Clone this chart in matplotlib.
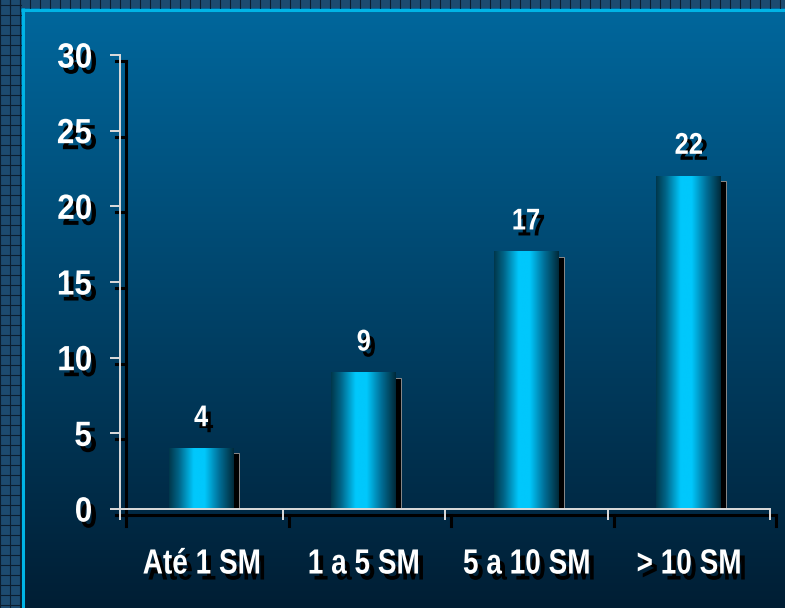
import numpy as np
import matplotlib
matplotlib.use("Agg")
import matplotlib.pyplot as plt
from matplotlib.patches import Rectangle, PathPatch
from matplotlib.textpath import TextPath
from matplotlib.font_manager import FontProperties
from matplotlib.transforms import offset_copy, Affine2D, ScaledTranslation

# data
categories = ["Até 1 SM", "1 a 5 SM", "5 a 10 SM", "> 10 SM"]
values = [4, 9, 17, 22]
y_ticks = [0, 5, 10, 15, 20, 25, 30]

W, H = 785, 608
fig = plt.figure(figsize=(W / 100, H / 100), dpi=100)

BOLD = FontProperties(family="Liberation Sans", weight="bold")
CAP = 0.716    # cap height / em


def narrow_text(ax, x, y, s, size_px, base_tr, ha="center", dx=0, dy=0, sx=0.80):
    # white text with a black drop shadow, condensed horizontally
    # (reference uses a narrow bold face that is not installed)
    tp = TextPath((0, 0), s, size=size_px, prop=BOLD)
    bb = tp.get_extents()
    if ha == "right":
        ox = -sx * bb.x1
    else:
        ox = -sx * (bb.x0 + bb.x1) / 2
    oy = -CAP * size_px / 2
    for col, sh in (("black", (5, -6)), ("white", (0, 0))):
        tr = (Affine2D().scale(sx, 1).translate(ox + dx + sh[0], oy + dy + sh[1])
              + ScaledTranslation(x, y, base_tr))
        p = PathPatch(tp, fc=col, ec="none", transform=tr, zorder=6)
        p.set_clip_on(False)
        ax.add_artist(p)


# ---------------------------------
# BACKGROUND (gradient + grid frame)
# ---------------------------------
bg = fig.add_axes([0, 0, 1, 1])
bg.set_xlim(0, W)
bg.set_ylim(H, 0)
bg.axis("off")

top_col = np.array([0, 104, 158]) / 255
bot_col = np.array([0, 30, 52]) / 255
t = np.linspace(0, 1, H)[:, None, None]
grad = top_col * (1 - t) + bot_col * t
bg.imshow(grad, extent=[0, W, H, 0], aspect="auto", zorder=0)

frame_col = "#1d4b70"
bg.add_patch(Rectangle((0, 0), 21, H, fc=frame_col, ec="none", zorder=1))
bg.add_patch(Rectangle((0, 0), W, 8, fc=frame_col, ec="none", zorder=1))
for gx in range(0, 21, 10):
    bg.plot([gx, gx], [0, H], color="#0b1e30", lw=0.8, zorder=2)
for gy in range(5, H, 10):
    bg.plot([0, 21], [gy, gy], color="#0b1e30", lw=0.8, zorder=2)
for gx in range(0, W, 10):
    bg.plot([gx, gx], [0, 8], color="#0b1e30", lw=0.8, zorder=2)
bg.plot([22.5, 22.5], [8, H], color="#00b4e6", lw=2.2, zorder=3, solid_capstyle="butt")
bg.plot([21, W], [9.5, 9.5], color="#00b4e6", lw=2.2, zorder=3, solid_capstyle="butt")

# ---------------------------------
# CHART
# ---------------------------------
ax = fig.add_axes([120 / W, 99 / H, 650 / W, 454 / H])
ax.set_facecolor("none")

shadow_tr = offset_copy(ax.transData, fig, x=5, y=-5, units="dots")

stops_t = [0.0, 0.15, 0.38, 0.55, 0.78, 1.0]
stops_g = [55, 100, 200, 200, 110, 42]
stops_b = [75, 135, 252, 252, 150, 58]
tt = np.linspace(0, 1, 200)
bar_grad = np.zeros((1, 200, 3))
bar_grad[0, :, 1] = np.interp(tt, stops_t, stops_g) / 255
bar_grad[0, :, 2] = np.interp(tt, stops_t, stops_b) / 255

bw = 0.4
for i, v in enumerate(values):
    ax.add_patch(Rectangle((i - bw / 2, 0), bw, v, transform=shadow_tr,
                           fc="black", ec="#8a8a8a", lw=0.7, zorder=1))
    ax.imshow(bar_grad, extent=[i - bw / 2, i + bw / 2, 0, v],
              aspect="auto", zorder=2, interpolation="bilinear")

ax.set_xlim(-0.5, 3.5)
ax.set_ylim(0, 30)
ax.set_aspect("auto")

# axis lines and ticks
for s in ["top", "right"]:
    ax.spines[s].set_visible(False)
for s in ["left", "bottom"]:
    ax.spines[s].set_color("#dcdcdc")
    ax.spines[s].set_linewidth(1.4)
    ax.spines[s].set_zorder(4)

ax.set_yticks(y_ticks)
ax.set_yticklabels([])
ax.set_xticks([-0.5, 0.5, 1.5, 2.5, 3.5])
ax.set_xticklabels([])
ax.tick_params(axis="y", direction="out", length=7.5, width=1.4, color="#dcdcdc")
ax.tick_params(axis="x", direction="out", length=8, width=1.4, color="#dcdcdc")

# shadow of the axes
ax_sh = offset_copy(ax.transAxes, fig, x=6, y=-6, units="dots")
ax.plot([0, 0], [0, 1], color="black", lw=2.2, transform=ax_sh, clip_on=False, zorder=0.5)
ax.plot([0, 1], [0, 0], color="black", lw=2.2, transform=ax_sh, clip_on=False, zorder=0.5)
ytr = offset_copy(ax.get_yaxis_transform(), fig, x=6, y=-6, units="dots")
for yv in y_ticks:
    ax.plot([-10 / 650, 0], [yv, yv], color="black", lw=2.2, transform=ytr,
            clip_on=False, zorder=0.5)
xtr = offset_copy(ax.get_xaxis_transform(), fig, x=6, y=-6, units="dots")
for xv in [-0.5, 0.5, 1.5, 2.5, 3.5]:
    ax.plot([xv, xv], [-11 / 454, 0], color="black", lw=2.2, transform=xtr,
            clip_on=False, zorder=0.5)

# texts
for yv in y_ticks:
    narrow_text(ax, 0, yv, str(yv), 35, ax.get_yaxis_transform(), ha="right",
                dx=-29, sx=0.9)
for i, c in enumerate(categories):
    narrow_text(ax, i, 0, c, 35, ax.get_xaxis_transform(), dy=-52)
for i, v in enumerate(values):
    narrow_text(ax, i, v, str(v), 30, ax.transData, dy=33, sx=0.85)

fig.savefig("out.png", dpi=100)
